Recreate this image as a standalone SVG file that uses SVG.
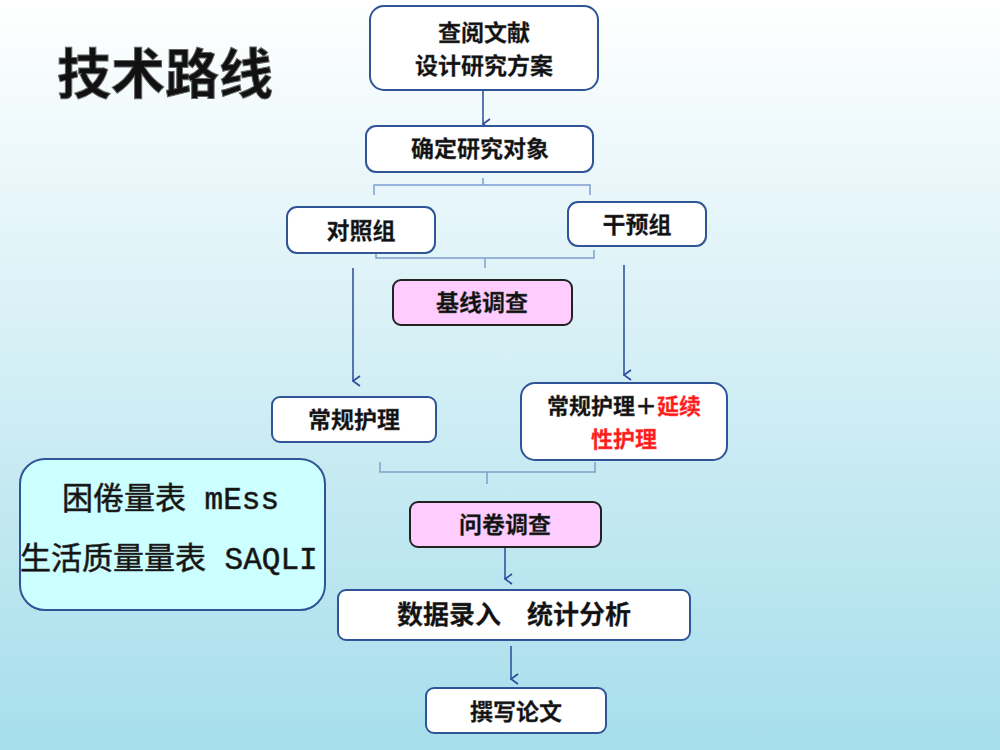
<svg xmlns="http://www.w3.org/2000/svg" width="1000" height="750" viewBox="0 0 1000 750">
<defs>
<linearGradient id="bg" x1="0" y1="0" x2="0" y2="1"><stop offset="0" stop-color="#ffffff"/><stop offset="1" stop-color="#a6deeb"/></linearGradient>
<marker id="ar" markerWidth="12" markerHeight="10" refX="6" refY="8" orient="auto" markerUnits="userSpaceOnUse" viewBox="0 0 12 10"><path d="M1,1 L6,8 L11,1" fill="none" stroke="#2a4a9a" stroke-width="1.6"/></marker>
<style>
.b{fill:#ffffff;stroke:#2f5597;stroke-width:2}
.p{fill:#ffccff;stroke:#222;stroke-width:2}
.t{font-family:"Noto Sans CJK SC",sans-serif;font-weight:bold;font-size:23px;fill:#111;text-anchor:middle;stroke:#555;stroke-width:0.3}
.c{fill:none;stroke:#2a4a9a;stroke-width:1.5}
.br{fill:none;stroke:#7f9fcf;stroke-width:1.5}
.l{font-family:"Noto Sans CJK SC",sans-serif;font-size:31px;fill:#111;stroke:#333;stroke-width:0.6}
</style>
</defs>
<rect width="1000" height="750" fill="url(#bg)"/>
<text x="57" y="94" font-family="Noto Sans CJK SC,sans-serif" font-weight="bold" font-size="54" fill="#111" stroke="#666" stroke-width="1">技术路线</text>
<g id="connectors">
<line class="c" x1="483" y1="90" x2="483" y2="124" marker-end="url(#ar)"/>
<path class="br" d="M374,195 V185 H590 V195 M483,185 V178"/>
<path class="br" d="M376,250 V258 H594 V250 M485,258 V268"/>
<line class="c" x1="353" y1="268" x2="353" y2="381" marker-end="url(#ar)"/>
<line class="c" x1="624" y1="265" x2="624" y2="375" marker-end="url(#ar)"/>
<path class="br" d="M380,462 V472 H595 V462 M487,472 V484"/>
<line class="c" x1="505" y1="547" x2="505" y2="579" marker-end="url(#ar)"/>
<line class="c" x1="511" y1="646" x2="511" y2="679" marker-end="url(#ar)"/>
</g>
<g id="n1"><rect class="b" x="370" y="6" width="228" height="84" rx="14"/><text class="t" x="484" y="41">查阅文献</text><text class="t" x="484" y="74">设计研究方案</text></g>
<g id="n2"><rect class="b" x="366" y="126" width="227" height="46" rx="10"/><text class="t" x="480" y="157">确定研究对象</text></g>
<g id="n3"><rect class="b" x="287" y="207" width="148" height="46" rx="10"/><text class="t" x="361" y="239">对照组</text></g>
<g id="n4"><rect class="b" x="568" y="202" width="138" height="44" rx="10"/><text class="t" x="637" y="233">干预组</text></g>
<g id="n5"><rect class="p" x="393" y="280" width="179" height="45" rx="8"/><text class="t" x="482" y="311">基线调查</text></g>
<g id="n6"><rect class="b" x="272" y="397" width="164" height="45" rx="8"/><text class="t" x="354" y="428">常规护理</text></g>
<g id="n7"><rect class="b" x="521" y="383" width="206" height="77" rx="14"/><text class="t" x="624" y="414" style="font-size:22px">常规护理＋<tspan fill="#ff1a1a" stroke="#f55">延续</tspan></text><text class="t" x="624" y="447" style="font-size:22px;fill:#ff1a1a;stroke:#f55">性护理</text></g>
<g id="n8"><rect class="p" x="410" y="502" width="191" height="45" rx="8"/><text class="t" x="505" y="533">问卷调查</text></g>
<g id="n9"><rect class="b" x="338" y="590" width="352" height="50" rx="8"/><text class="t" x="514" y="624" style="font-size:26px">数据录入　统计分析</text></g>
<g id="n10"><rect class="b" x="426" y="688" width="180" height="45" rx="8"/><text class="t" x="516" y="720">撰写论文</text></g>
<g id="n11"><rect x="20" y="459" width="305" height="151" rx="25" fill="#ccffff" stroke="#2f5597" stroke-width="2"/>
<text class="l" x="62" y="509">困倦量表<tspan font-family="Liberation Mono,monospace"> mEss</tspan></text>
<text class="l" x="20" y="569">生活质量量表<tspan font-family="Liberation Mono,monospace"> SAQLI</tspan></text></g>
</svg>
